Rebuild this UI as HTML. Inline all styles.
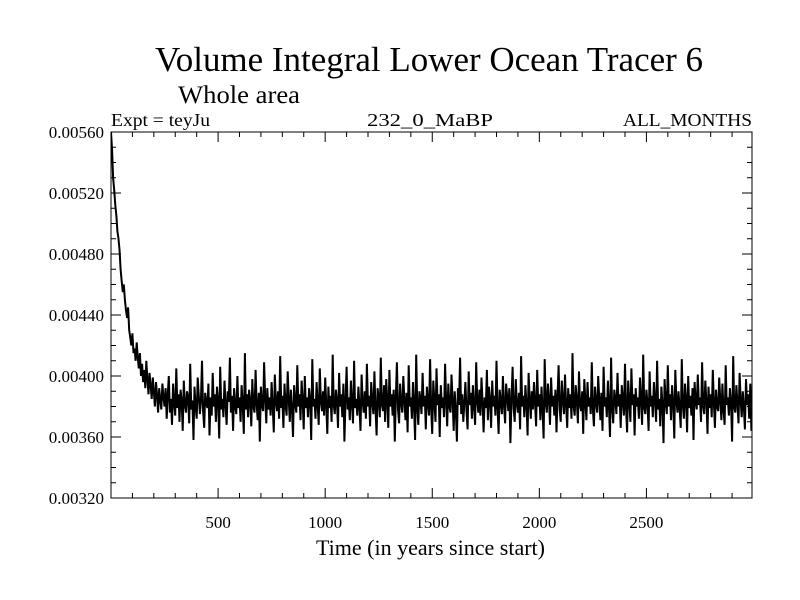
<!DOCTYPE html>
<html><head><meta charset="utf-8"><style>
html,body{margin:0;padding:0;background:#fff;}
svg{display:block;font-family:"Liberation Serif",serif;}
</style></head><body>
<svg id="chart" width="800" height="600" viewBox="0 0 800 600">
<text x="429" y="71" font-size="35" text-anchor="middle" textLength="548" lengthAdjust="spacingAndGlyphs">Volume Integral Lower Ocean Tracer 6</text>
<text x="178" y="103" font-size="25" textLength="122" lengthAdjust="spacingAndGlyphs">Whole area</text>
<text x="111" y="126" font-size="18" textLength="99" lengthAdjust="spacingAndGlyphs">Expt = teyJu</text>
<text x="367" y="126" font-size="18" textLength="126" lengthAdjust="spacingAndGlyphs">232_0_MaBP</text>
<text x="623" y="126" font-size="18" textLength="129" lengthAdjust="spacingAndGlyphs">ALL_MONTHS</text>
<text x="316" y="555" font-size="22" textLength="229" lengthAdjust="spacingAndGlyphs">Time (in years since start)</text>
<defs><clipPath id="pc"><rect x="111" y="132" width="641" height="366"/></clipPath></defs>
<g id="axes"></g>
<g id="series" clip-path="url(#pc)"></g>
<rect x="111" y="132" width="641" height="366" fill="none" stroke="#000" stroke-width="1"/>
</svg>
<script>
const xMin = 0, xMax = 2993;
const yMin = 0.0032, yMax = 0.0056;
const xTickLabels = [500, 1000, 1500, 2000, 2500];
const yTickLabels = ["0.00320","0.00360","0.00400","0.00440","0.00480","0.00520","0.00560"];
const yearStep = 5;
const values = [
560,548,530,522,512,505,495,490,482,470,462,455,460,450,443,438,445,430,425,420,428,415,418,410,422,412,405,415,400,408,396,404,392,410,398,388,402,394,385,399,390,380,396,388,376,392,384,378,395,386,
380,392,372,388,400,376,385,368,395,382,374,405,379,388,370,391,383,364,397,381,376,390,386,369,408,378,384,358,393,380,372,399,387,375,383,410,377,366,389,382,379,395,361,386,374,402,380,388,370,393,
384,359,406,378,385,373,397,381,368,390,383,412,376,387,364,392,380,375,400,379,386,370,394,382,362,415,378,388,373,391,384,367,398,380,376,404,382,371,389,357,393,381,377,409,385,369,392,378,386,374,
396,380,363,401,383,377,390,372,413,379,387,366,395,381,374,403,384,370,391,378,360,394,382,376,407,380,388,371,397,383,365,400,379,386,373,392,384,358,411,380,385,372,396,381,368,405,383,377,390,374,
399,382,362,393,379,387,370,414,381,375,391,384,366,402,380,388,373,395,357,383,406,378,386,371,397,382,369,410,379,385,374,393,381,364,401,384,376,390,372,408,380,387,367,396,383,375,403,379,361,392,
386,373,412,381,377,394,370,398,383,366,404,380,388,374,391,357,385,409,378,369,395,382,376,400,384,371,389,363,407,380,386,372,396,381,358,414,379,368,390,384,375,402,380,387,365,393,382,374,411,378,
362,397,383,370,405,381,388,360,394,379,386,373,408,382,367,395,380,376,401,384,364,390,378,357,392,381,412,375,388,370,383,396,377,365,403,381,389,372,394,380,368,409,384,376,391,374,399,382,363,386,
379,404,371,393,384,366,397,380,387,374,410,378,362,391,383,375,400,381,369,395,386,377,392,356,385,406,379,370,398,382,376,389,365,413,380,387,373,394,381,361,402,384,372,390,378,396,383,367,404,380,
388,371,393,379,359,411,382,376,395,384,368,399,380,387,374,391,363,386,407,378,370,397,383,375,401,381,366,392,379,388,372,415,380,374,394,384,369,403,381,377,390,362,398,383,371,396,380,386,375,409,
378,367,393,382,376,400,384,371,389,364,406,380,386,373,397,381,360,412,379,369,391,384,375,402,380,388,366,394,383,374,408,378,363,397,383,370,405,381,388,361,392,380,386,372,399,383,368,414,379,375,
391,382,364,403,380,387,373,396,384,370,410,378,385,367,393,381,356,398,383,375,407,380,388,371,394,382,359,404,384,376,390,379,366,411,381,372,395,385,363,400,379,387,374,392,358,396,383,378,401,381,
386,370,409,380,375,397,384,362,393,379,388,373,404,382,366,391,380,377,399,384,371,395,378,368,407,381,386,374,392,383,357,413,380,376,394,382,369,402,385,373,390,379,365,398,381,388,372,395,364,391
];
const L=111,R=752,T=132,B=498;
function xs(v){return L+(v-xMin)/(xMax-xMin)*(R-L);}
function ys(v){return B-(v-yMin)/(yMax-yMin)*(B-T);}
const NS="http://www.w3.org/2000/svg";
const axes=document.getElementById('axes');
function line(x1,y1,x2,y2){const l=document.createElementNS(NS,'line');l.setAttribute('x1',x1);l.setAttribute('y1',y1);l.setAttribute('x2',x2);l.setAttribute('y2',y2);l.setAttribute('stroke','#000');l.setAttribute('stroke-width','1');axes.appendChild(l);return l;}
for(let yr=100;yr<xMax;yr+=100){const x=xs(yr);const len=(yr%500===0)?10:5;
const t1=line(x,B,x,B-len);


const t2=line(x,T,x,T+len);

}
xTickLabels.forEach(v=>{const t=document.createElementNS(NS,'text');t.setAttribute('x',xs(v));t.setAttribute('y',528);t.setAttribute('font-size','17');t.setAttribute('text-anchor','middle');t.textContent=v;


axes.appendChild(t);});
for(let k=1;k<24;k++){const v=yMin+k*0.0001;const y=ys(v);const len=(k%4===0)?10:5;
const t1=line(L,y,L+len,y);


const t2=line(R,y,R-len,y);

}
yTickLabels.forEach(s=>{const t=document.createElementNS(NS,'text');t.setAttribute('x',104);t.setAttribute('y',ys(parseFloat(s))+6);t.setAttribute('font-size','17');t.setAttribute('text-anchor','end');t.textContent=s;


axes.appendChild(t);});
const pts=values.map((v,i)=>xs(i*yearStep).toFixed(1)+','+ys(v*0.00001).toFixed(1)).join(' ');
const pl=document.createElementNS(NS,'polyline');pl.setAttribute('points',pts);pl.setAttribute('fill','none');pl.setAttribute('stroke','#000');pl.setAttribute('stroke-width','2');pl.setAttribute('stroke-linejoin','miter');


document.getElementById('series').appendChild(pl);
</script>
</body></html>
